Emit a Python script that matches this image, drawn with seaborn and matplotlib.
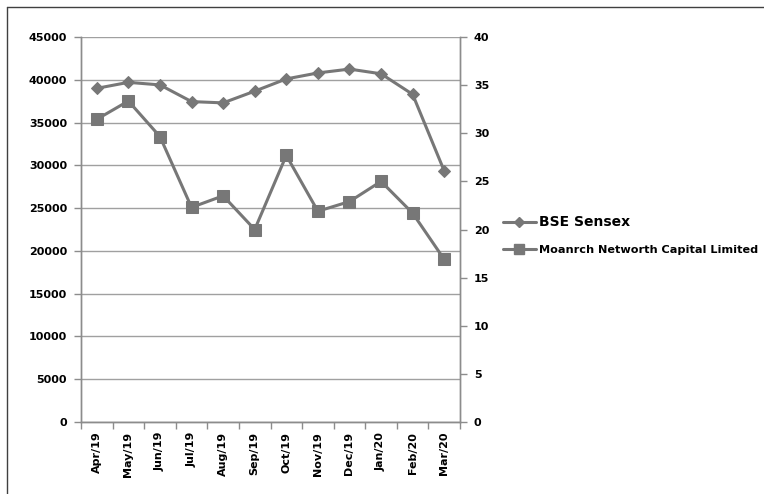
import matplotlib
matplotlib.use('Agg')
import matplotlib.pyplot as plt
import seaborn as sns
from matplotlib.lines import Line2D
from matplotlib.ticker import MultipleLocator, FixedLocator

# Monthly values
months = ['Apr/19', 'May/19', 'Jun/19', 'Jul/19', 'Aug/19', 'Sep/19',
          'Oct/19', 'Nov/19', 'Dec/19', 'Jan/20', 'Feb/20', 'Mar/20']
sensex = [39000, 39700, 39400, 37450, 37300, 38670,
          40100, 40800, 41250, 40700, 38300, 29350]
monarch = [31.45, 33.35, 29.65, 22.3, 23.5, 20.0,
           27.7, 21.9, 22.9, 25.0, 21.7, 16.9]

sns.set_style('white')
plt.rcParams['font.family'] = ['DejaVu Sans']
plt.rcParams['font.weight'] = 'bold'
plt.rcParams['text.color'] = 'black'
plt.rcParams['xtick.color'] = 'black'
plt.rcParams['ytick.color'] = 'black'

line_col = '#777777'
axis_col = '#8c8c8c'

fig = plt.figure(figsize=(7.64, 4.94), dpi=100)
ax = fig.add_axes([81 / 764, 1 - 422 / 494, (460 - 81) / 764, (422 - 37) / 494])
ax2 = ax.twinx()

sns.lineplot(x=months, y=sensex, ax=ax, sort=False, color=line_col, lw=2.2,
             marker='D', markersize=6, markeredgecolor=line_col)
sns.lineplot(x=months, y=monarch, ax=ax2, sort=False, color=line_col, lw=2.2,
             marker='s', markersize=8, markeredgecolor=line_col)

# Left axis
ax.set_ylim(0, 45000)
ax.yaxis.set_major_locator(MultipleLocator(5000))
ax.grid(axis='y', color='#a0a0a0', lw=1)
ax.set_axisbelow(True)
ax.set_xlim(-0.5, 11.5)
ax.xaxis.set_minor_locator(FixedLocator([i - 0.5 for i in range(13)]))
ax.tick_params(axis='x', which='major', length=0, rotation=90, labelsize=8, pad=7,
               labelcolor='black')
ax.tick_params(axis='x', which='minor', length=5, color=axis_col, width=1, bottom=True)
ax.tick_params(axis='y', length=5, color=axis_col, width=1, labelsize=8, pad=5, left=True,
               labelcolor='black')
for lab in ax.get_xticklabels() + ax.get_yticklabels():
    lab.set_fontweight('bold')

# Right axis
ax2.set_ylim(0, 40)
ax2.yaxis.set_major_locator(MultipleLocator(5))
ax2.tick_params(axis='y', length=5, color=axis_col, width=1, labelsize=8, pad=5, right=True,
                labelcolor='black')
for lab in ax2.get_yticklabels():
    lab.set_fontweight('bold')

for a in (ax, ax2):
    a.set_xlabel('')
    a.set_ylabel('')
    a.spines['top'].set_visible(False)
    for s in ('left', 'right', 'bottom'):
        a.spines[s].set_color(axis_col)
        a.spines[s].set_linewidth(1)

# Legend
handles = [Line2D([], [], color=line_col, lw=2.2, marker='D', markersize=5),
           Line2D([], [], color=line_col, lw=2.2, marker='s', markersize=7)]
leg = fig.legend(handles, ['BSE Sensex', 'Moanrch Networth Capital Limited'],
                 loc='center left', bbox_to_anchor=(503 / 764, 1 - 235 / 494),
                 frameon=False, borderpad=0, borderaxespad=0,
                 handlelength=2.9, handletextpad=0.3, labelspacing=1.5,
                 prop={'size': 8.1, 'weight': 'bold'})
leg.get_texts()[0].set_fontsize(10)
for t in leg.get_texts():
    t.set_color('black')

# Outer border of the chart area
fig.add_artist(Line2D([6.5 / 764, 6.5 / 764], [0, 1 - 7 / 494], color='#404040', lw=1))
fig.add_artist(Line2D([6.5 / 764, 1], [1 - 7 / 494, 1 - 7 / 494], color='#404040', lw=1))

fig.savefig('out.png', dpi=100)
